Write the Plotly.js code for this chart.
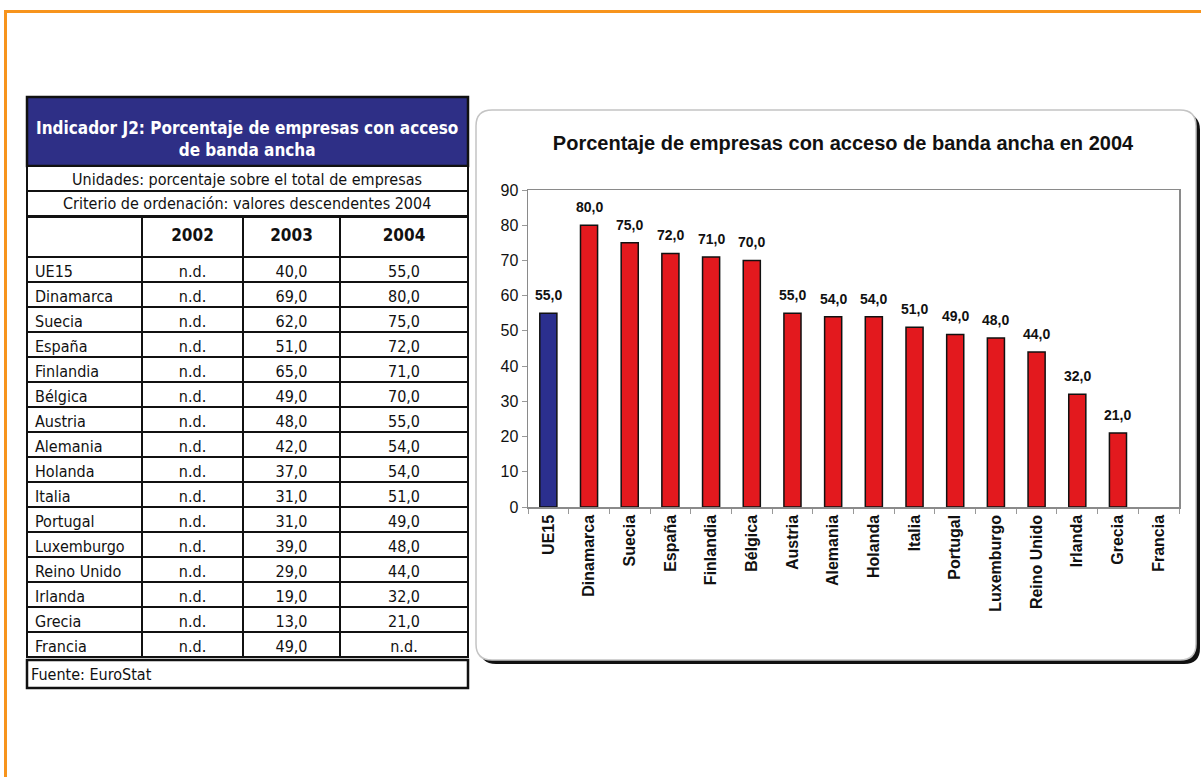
<!DOCTYPE html>
<html>
<head>
<meta charset="utf-8">
<script src="https://cdn.plot.ly/plotly-3.0.1.min.js"></script>
<style>html,body{margin:0;padding:0;background:#fff;}#chart{width:1201px;height:777px;}</style>
</head>
<body>
<div id="chart"></div>
<script>
// ---- data ----
const categories = ['UE15','Dinamarca','Suecia','España','Finlandia','Bélgica','Austria','Alemania','Holanda','Italia','Portugal','Luxemburgo','Reino Unido','Irlanda','Grecia','Francia'];
const values2002 = [null,null,null,null,null,null,null,null,null,null,null,null,null,null,null,null];
const values2003 = [40,69,62,51,65,49,48,42,37,31,31,39,29,19,13,49];
const values2004 = [55,80,75,72,71,70,55,54,54,51,49,48,44,32,21,null];
const yearLabels = ['2002','2003','2004'];
const tableTitle = 'Indicador J2: Porcentaje de empresas con acceso<br>de banda ancha';
const unitsText = 'Unidades: porcentaje sobre el total de empresas';
const orderText = 'Criterio de ordenación: valores descendentes 2004';
const sourceText = 'Fuente: EuroStat';
const chartTitle = 'Porcentaje de empresas con acceso de banda ancha en 2004';

// ---- helpers ----
const W = 1201, H = 777;
const X = px => px / W;
const Y = py => 1 - py / H;
const fmt = v => v == null ? 'n.d.' : v.toFixed(1).replace('.', ',');

function roundRect(x0, y0, x1, y1, r) {
  const p = (x, y) => X(x) + ',' + Y(y);
  return 'M' + p(x0 + r, y0) + ' L' + p(x1 - r, y0) + ' Q' + p(x1, y0) + ' ' + p(x1, y0 + r) +
    ' L' + p(x1, y1 - r) + ' Q' + p(x1, y1) + ' ' + p(x1 - r, y1) +
    ' L' + p(x0 + r, y1) + ' Q' + p(x0, y1) + ' ' + p(x0, y1 - r) +
    ' L' + p(x0, y0 + r) + ' Q' + p(x0, y0) + ' ' + p(x0 + r, y0) + ' Z';
}

const TF = 'DejaVu Sans Condensed, DejaVu Sans, sans-serif';
const CF = 'Liberation Sans Narrow, Arial Narrow, Liberation Sans, Arial, sans-serif';
const navy = '#2e2f86';
const red = '#e3191e';
const blue = '#2b2f8e';

const barColors = categories.map((c, i) => i === 0 ? blue : red);

const bars = {
  type: 'bar',
  x: categories,
  y: values2004,
  marker: { color: barColors, line: { color: '#111', width: 1.5 } },
  width: 0.42,
  hoverinfo: 'x+y',
  xaxis: 'x', yaxis: 'y'
};

const table = {
  type: 'table',
  domain: { x: [X(27), X(468)], y: [Y(661), Y(217)] },
  columnwidth: [115, 101, 97, 128],
  header: {
    values: [''].concat(yearLabels.map(y => '<b>' + y + '</b>')),
    height: 40,
    align: 'center',
    fill: { color: 'white' },
    line: { color: '#111', width: 2 },
    font: { family: TF, size: 17, color: '#111' }
  },
  cells: {
    values: [categories, values2002.map(fmt), values2003.map(fmt), values2004.map(fmt)],
    height: 25,
    align: ['left', 'center', 'center', 'center'],
    fill: { color: 'white' },
    line: { color: '#111', width: 2 },
    font: { family: TF, size: 16, color: '#111' }
  }
};

const shapes = [
  // orange frame
  { type: 'line', xref: 'paper', yref: 'paper', x0: X(4), x1: X(1201), y0: Y(11.5), y1: Y(11.5), line: { color: '#f7941d', width: 3 } },
  { type: 'line', xref: 'paper', yref: 'paper', x0: X(5.5), x1: X(5.5), y0: Y(10), y1: Y(777), line: { color: '#f7941d', width: 3 } },
  // chart box shadow + box
  { type: 'path', xref: 'paper', yref: 'paper', layer: 'below', path: roundRect(480, 114, 1200, 664, 16), fillcolor: '#111', line: { width: 0 } },
  { type: 'path', xref: 'paper', yref: 'paper', layer: 'below', path: roundRect(476, 110, 1196, 660, 16), fillcolor: '#fff', line: { color: '#c4c4c4', width: 1.5 } },
  // table title rows
  { type: 'rect', xref: 'paper', yref: 'paper', x0: X(27), x1: X(468), y0: Y(97), y1: Y(166), fillcolor: navy, line: { color: '#111', width: 2.5 } },
  { type: 'rect', xref: 'paper', yref: 'paper', x0: X(27), x1: X(468), y0: Y(166), y1: Y(191), fillcolor: '#fff', line: { color: '#111', width: 2 } },
  { type: 'rect', xref: 'paper', yref: 'paper', x0: X(27), x1: X(468), y0: Y(191), y1: Y(216), fillcolor: '#fff', line: { color: '#111', width: 2 } },
  // source row
  { type: 'rect', xref: 'paper', yref: 'paper', x0: X(27), x1: X(468), y0: Y(660), y1: Y(688), fillcolor: '#fff', line: { color: '#111', width: 2.5 } }
];

const annotations = [
  { xref: 'paper', yref: 'paper', x: X(247.5), y: Y(139), text: '<b>' + tableTitle + '</b>', showarrow: false, xanchor: 'center', yanchor: 'middle', align: 'center', font: { family: TF, size: 17, color: '#fff' } },
  { xref: 'paper', yref: 'paper', x: X(247.5), y: Y(179), text: unitsText, showarrow: false, xanchor: 'center', yanchor: 'middle', font: { family: TF, size: 16, color: '#111' } },
  { xref: 'paper', yref: 'paper', x: X(247.5), y: Y(204), text: orderText, showarrow: false, xanchor: 'center', yanchor: 'middle', font: { family: TF, size: 16, color: '#111' } },
  { xref: 'paper', yref: 'paper', x: X(29), y: Y(674), text: sourceText, showarrow: false, xanchor: 'left', yanchor: 'middle', font: { family: TF, size: 16, color: '#111' } }
];

// value labels above bars (data-driven)
categories.forEach((c, i) => {
  const v = values2004[i];
  if (v == null) return;
  annotations.push({
    xref: 'x', yref: 'y', x: c, y: v, text: '<b>' + fmt(v) + '</b>',
    showarrow: false, xanchor: 'center', yanchor: 'bottom', yshift: 8,
    font: { family: CF, size: 14, color: '#111' }
  });
});

const layout = {
  width: W, height: H,
  margin: { l: 0, r: 0, t: 0, b: 0 },
  paper_bgcolor: '#fff',
  plot_bgcolor: '#fff',
  showlegend: false,
  title: { text: '<b>' + chartTitle + '</b>', x: X(843), y: Y(143), xanchor: 'center', yanchor: 'middle', xref: 'paper', yref: 'paper', font: { family: CF, size: 20, color: '#111' } },
  xaxis: {
    domain: [X(528), X(1179)],
    type: 'category',
    tickangle: -90,
    tickfont: { family: CF, size: 16, color: '#111', weight: 'bold' },
    ticks: 'outside', tickson: 'boundaries', ticklen: 5, tickcolor: '#999',
    showline: true, mirror: true, linecolor: '#8a8a8a', linewidth: 1.5,
    showgrid: false, zeroline: false, fixedrange: true
  },
  yaxis: {
    domain: [Y(507), Y(190)],
    range: [0, 90], dtick: 10,
    tickfont: { family: CF, size: 16, color: '#111' },
    ticks: 'outside', ticklen: 5, tickcolor: '#999',
    showline: true, mirror: true, linecolor: '#8a8a8a', linewidth: 1.5,
    showgrid: false, zeroline: false, fixedrange: true
  },
  shapes: shapes,
  annotations: annotations
};

Plotly.newPlot('chart', [bars, table], layout, { displayModeBar: false, staticPlot: true });
</script>
</body>
</html>
